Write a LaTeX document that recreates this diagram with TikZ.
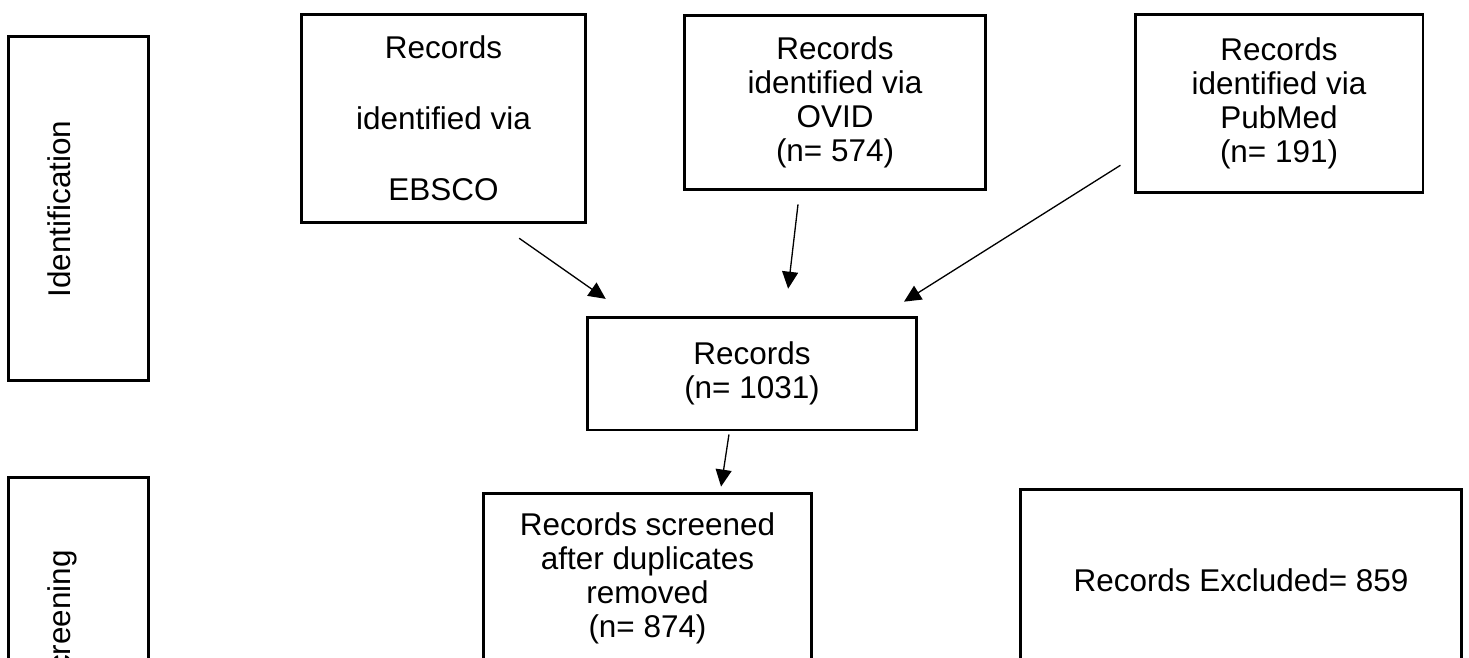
\documentclass[tikz,border=0pt]{standalone}
\usepackage{fontspec}
\setmainfont{Liberation Sans}
\usetikzlibrary{arrows.meta,calc}

\begin{document}
\begin{tikzpicture}[
    x=0.02cm, y=-0.02cm,
    font=\fontsize{17.9}{19.4}\selectfont,
    box/.style={draw, line width=1.7pt, align=center, inner sep=0pt},
    side box/.style={draw, line width=1.7pt, minimum width=2.82cm, minimum height=6.9cm},
    side text/.style={rotate=90, anchor=base},
    arr/.style={-{Triangle[length=0.34cm, width=0.32cm]}, line width=0.75pt}
]
    \clip (0,0) rectangle (1469,657);

    % phases
    \node[side box] (identbox)  at (78.5,208.5) {};
    \node[side box] (screenbox) at (78.5,649.5) {};
    \node[side text] (identlabel)  at (70,209) {Identification};
    \node[side text] (screenlabel) at (70,621) {Screening};

    % sources
    \node[box, minimum width=5.7cm, minimum height=4.18cm] (ebsco) at (443.5,118.5)
        {Records\\[21pt]identified via\\[21pt]EBSCO};
    \node[box, minimum width=6.04cm, minimum height=3.5cm] (ovid) at (835,102.5)
        {Records\\identified via\\OVID\\(n= 574)};
    \node[box, minimum width=5.76cm, minimum height=3.58cm] (pubmed) at (1279,103.5)
        {Records\\identified via\\PubMed\\(n= 191)};

    \node[box, minimum width=6.6cm, minimum height=2.26cm] (records) at (752,373.5)
        {Records\\(n= 1031)};
    \node[box, minimum width=6.58cm, minimum height=3.4cm] (screened) at (647.5,578)
        {Records screened\\after duplicates\\removed\\(n= 874)};
    \node[box, minimum width=8.84cm, minimum height=3.64cm] (excluded) at (1241,580)
        {Records Excluded= 859};

    \draw[arr, shorten <=0.48cm, shorten >=0.58cm] ($(ebsco.south)+(56,0)$) -- ($(records.north)+(-122.5,0)$);
    \draw[arr, shorten <=0.26cm, shorten >=0.54cm] ($(ovid.south)+(-35.5,0)$) -- ($(records.north)+(33,0)$);
    \draw[arr, shorten <=0.31cm, shorten >=0.52cm] ($(pubmed.west)+(0,53.5)$) -- ($(records.north)+(130,0)$);
    \draw[arr, shorten <=0.06cm, shorten >=0.1cm] ($(records.south)+(-22.6,0)$) -- ($(screened.north)+(72.8,0)$);
\end{tikzpicture}
\end{document}
